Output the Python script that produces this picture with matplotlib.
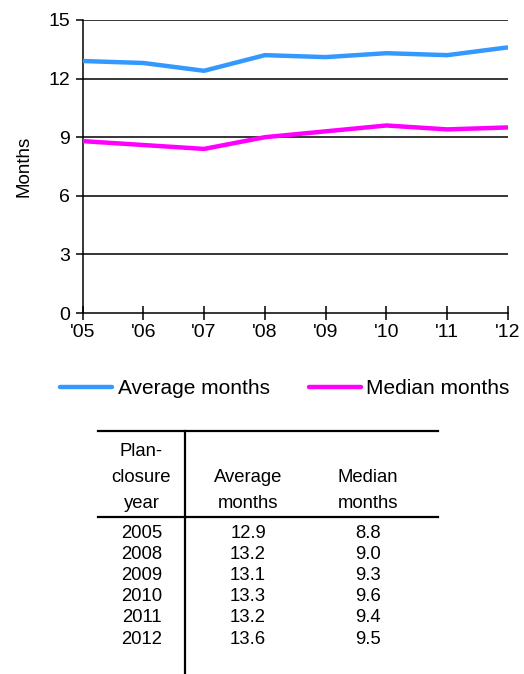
import matplotlib
matplotlib.use("Agg")
import matplotlib.pyplot as plt
from matplotlib.lines import Line2D

plt.rcParams['font.family'] = ['Liberation Sans', 'DejaVu Sans']

# Chart data
years = ["'05", "'06", "'07", "'08", "'09", "'10", "'11", "'12"]
average_months = [12.9, 12.8, 12.4, 13.2, 13.1, 13.3, 13.2, 13.6]
median_months = [8.8, 8.6, 8.4, 9.0, 9.3, 9.6, 9.4, 9.5]
y_ticks = [0, 3, 6, 9, 12, 15]

# Table data
table_years = ["2005", "2008", "2009", "2010", "2011", "2012"]
table_average = ["12.9", "13.2", "13.1", "13.3", "13.2", "13.6"]
table_median = ["8.8", "9.0", "9.3", "9.6", "9.4", "9.5"]

W, H = 524, 674
fig = plt.figure(figsize=(W / 100, H / 100), dpi=100)


def fx(px):
    return px / W


def fy(py):
    return 1 - py / H


ax = fig.add_axes([fx(82.5), fy(313), fx(508) - fx(82.5), fy(20) - fy(313)])
x = list(range(len(years)))
blue = '#3399FF'
magenta = '#FF00FF'
ax.plot(x, average_months, color=blue, lw=3.2, solid_capstyle='butt',
        label='Average months', zorder=3)
ax.plot(x, median_months, color=magenta, lw=3.2, solid_capstyle='butt',
        label='Median months', zorder=3)

ax.set_xlim(0, len(years) - 1)
ax.set_ylim(0, 15)
ax.set_yticks(y_ticks)
ax.set_xticks(x)
ax.set_xticklabels(years)
for t in y_ticks[1:]:
    ax.axhline(t, color='black', lw=1.1, zorder=1)
for s in ['top', 'right']:
    ax.spines[s].set_visible(False)
for s in ['left', 'bottom']:
    ax.spines[s].set_linewidth(1.1)
ax.tick_params(axis='y', direction='out', length=5, width=1.1, labelsize=14, pad=4)
ax.tick_params(axis='x', direction='inout', length=10, width=1.1, labelsize=14, pad=3)
ax.set_ylabel('Months', fontsize=13.5, labelpad=11)

leg = fig.legend(loc='center', bbox_to_anchor=(fx(285), fy(389)), ncol=2,
                 frameon=False, fontsize=15, handlelength=2.5,
                 handletextpad=0.25, columnspacing=1.9)
for h in leg.get_lines():
    h.set_linewidth(3.2)
    h.set_solid_capstyle('round')

# Summary table drawn below the chart
lw = 1.6
fig.add_artist(Line2D([fx(98), fx(438)], [fy(431), fy(431)], color='black', lw=lw))
fig.add_artist(Line2D([fx(98), fx(438)], [fy(517), fy(517)], color='black', lw=lw))
fig.add_artist(Line2D([fx(185), fx(185)], [fy(431), fy(674)], color='black', lw=lw))

col_x = [141.5, 248, 368]
fs = 13.3
for txt, yy in [("Plan-", 452), ("closure", 477), ("year", 503)]:
    fig.text(fx(col_x[0]), fy(yy), txt, ha='center', va='center', fontsize=fs)
for txt, yy in [("Average", 477), ("months", 503)]:
    fig.text(fx(col_x[1]), fy(yy), txt, ha='center', va='center', fontsize=fs)
for txt, yy in [("Median", 477), ("months", 503)]:
    fig.text(fx(col_x[2]), fy(yy), txt, ha='center', va='center', fontsize=fs)

row0, step = 533, 21.2
for i, (yr, av, md) in enumerate(zip(table_years, table_average, table_median)):
    yy = row0 + i * step
    fig.text(fx(col_x[0]), fy(yy), yr, ha='center', va='center', fontsize=fs)
    fig.text(fx(col_x[1]), fy(yy), av, ha='center', va='center', fontsize=fs)
    fig.text(fx(col_x[2]), fy(yy), md, ha='center', va='center', fontsize=fs)

fig.savefig('out.png', dpi=100)
